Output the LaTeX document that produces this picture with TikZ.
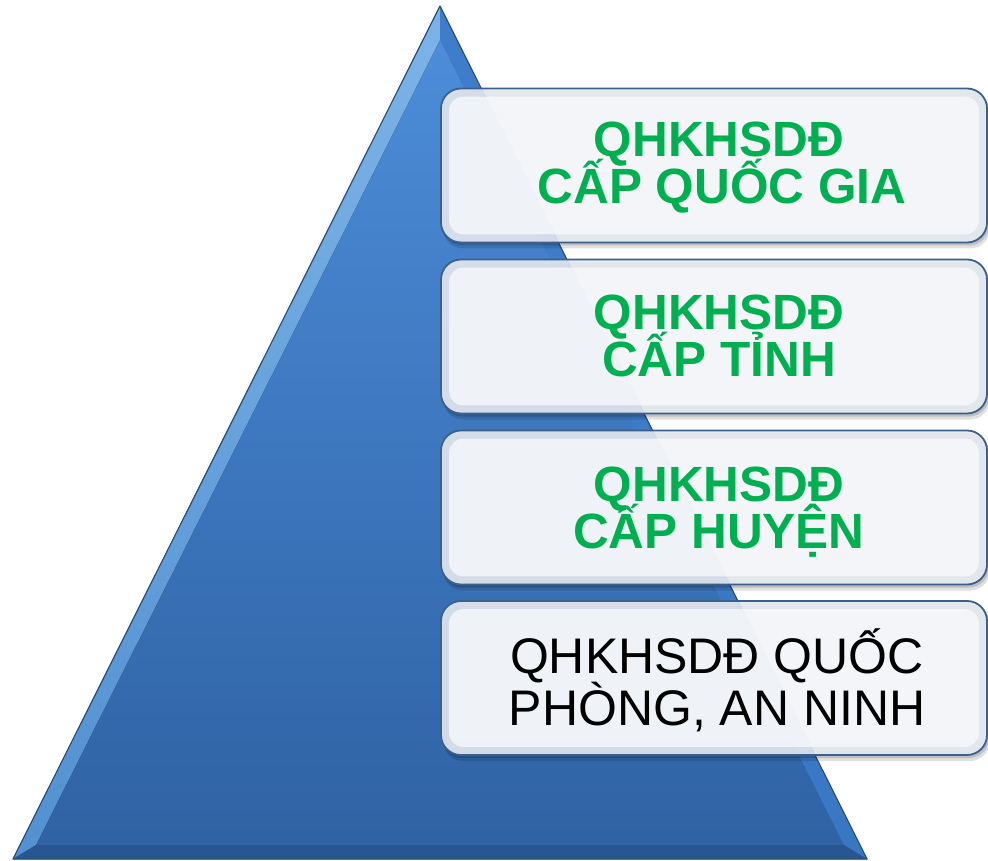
\documentclass[tikz,border=0pt]{standalone}
\usepackage{fontspec}
\setmainfont{Liberation Sans}
\usetikzlibrary{calc}

\definecolor{pyrtop}{HTML}{4E8EDB}
\definecolor{pyrbot}{HTML}{2E62A3}
\definecolor{bevlighttop}{HTML}{8AC6FF}
\definecolor{bevlightbot}{HTML}{5C9FE6}
\definecolor{bevright}{HTML}{3D7BC9}
\definecolor{bevbottom}{HTML}{28558F}
\definecolor{pyredge}{HTML}{27507F}
\definecolor{boxedge}{HTML}{3D5F8B}
\definecolor{boxfill}{HTML}{E6EBF2}
\definecolor{boxinner}{HTML}{FAFBFD}
\definecolor{lvlgreen}{HTML}{00B050}

\begin{document}
\begin{tikzpicture}[x=1pt,y=-1pt,
  levelbox/.style={rounded corners=20pt, minimum width=546pt, minimum height=154pt,
    draw=boxedge, line width=1.8pt, fill=boxfill, fill opacity=0.9, inner sep=0pt},
  gtxt/.style={font=\fontsize{49.5}{50}\selectfont\bfseries, text=lvlgreen, inner sep=0pt, anchor=base},
  btxt/.style={font=\fontsize{50}{50}\selectfont, text=black, inner sep=0pt, anchor=base}]
\useasboundingbox (0,0) rectangle (988,861);

% pyramid body
\coordinate (A) at (440,6);
\coordinate (B) at (13,859);
\coordinate (C) at (867,859);
\coordinate (Ai) at (440,40);
\coordinate (Bi) at (36,845);
\coordinate (Ci) at (844,845);
\fill[top color=pyrtop, bottom color=pyrbot] (A) -- (B) -- (C) -- cycle;
% bevel faces
\fill[top color=bevlighttop, bottom color=bevlightbot, opacity=0.9] (A) -- (B) -- (Bi) -- (Ai) -- cycle;
\fill[bevright, opacity=0.85] (A) -- (Ai) -- (Ci) -- (C) -- cycle;
\fill[bevbottom, opacity=0.9] (B) -- (C) -- (Ci) -- (Bi) -- cycle;
\draw[pyredge, line width=1.2pt, line join=round] (A) -- (B) -- (C) -- cycle;

% level boxes with their shadows
\foreach \n/\yc in {b1/165.5, b2/336.5, b3/507.5, b4/678} {
  \fill[black, opacity=0.12, rounded corners=20pt] (443,\yc-73) rectangle (990,\yc+83);
  \fill[black, opacity=0.15, rounded corners=20pt] (442,\yc-75) rectangle (989,\yc+80);
  \node[levelbox] (\n) at (714,\yc) {};
  \fill[boxinner, opacity=0.72, rounded corners=14pt]
    ($(\n.south west)+(9,-9)$) rectangle ($(\n.north east)+(-9,9)$);
}

% level names
\node[gtxt] (t1a) at (719,157) {QHKHSDĐ};
\node[gtxt] (t1b) at (722,204) {CẤP QUỐC GIA};
\node[gtxt] (t2a) at (719,329) {QHKHSDĐ};
\node[gtxt] (t2b) at (719,376) {CẤP TỈNH};
\node[gtxt] (t3a) at (719,501) {QHKHSDĐ};
\node[gtxt] (t3b) at (719,548) {CẤP HUYỆN};
\node[btxt] (t4a) at (717,673) {QHKHSDĐ QUỐC};
\node[btxt] (t4b) at (717,725) {PHÒNG, AN NINH};
\end{tikzpicture}
\end{document}
